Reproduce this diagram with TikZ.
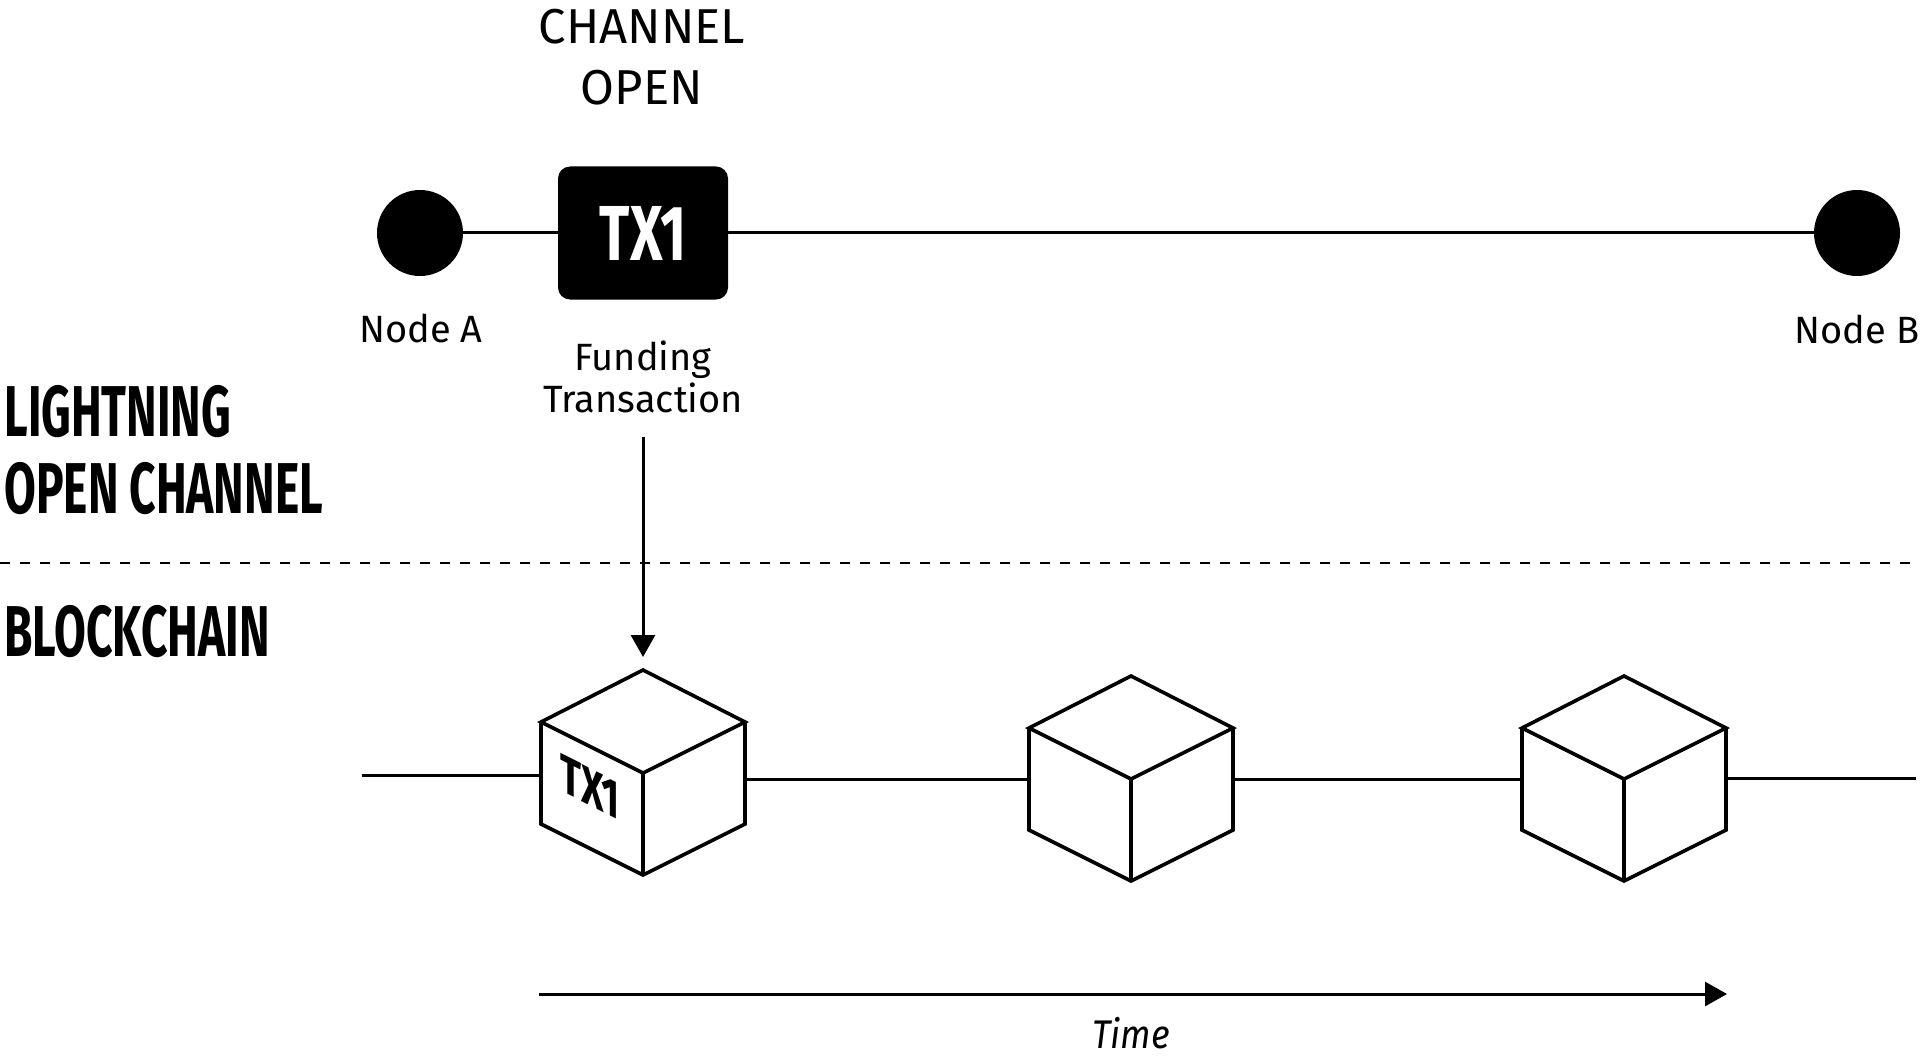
\documentclass[tikz,border=0pt]{standalone}
\usepackage{fontspec}
\setmainfont{Fira Sans}
\newfontfamily\headfont[FakeStretch=0.64]{Fira Sans}
\newfontfamily\txfont[FakeStretch=0.72]{Fira Sans}
\newfontfamily\timefont[FakeStretch=0.9]{Fira Sans}
\usetikzlibrary{arrows.meta}

\tikzset{
  peer/.style={circle, fill=black, minimum size=43pt, inner sep=0pt},
  txbox/.style={fill=black, rounded corners=6pt, minimum width=85pt, minimum height=66.5pt,
    inner sep=0pt, text=white, font=\txfont\bfseries\fontsize{39}{39}\selectfont},
  caption/.style={inner sep=0pt, font=\fontsize{19}{21}\selectfont, align=center},
  heading/.style={inner sep=0pt, anchor=north west, align=left,
    font=\headfont\bfseries\fontsize{36}{38.5}\selectfont},
  link/.style={line width=1.5pt},
  cubeline/.style={line width=1.8pt, line join=miter},
  flow/.style={line width=1.5pt, -{Triangle[length=11pt,width=12pt]}},
  divider/.style={line width=1pt, dash pattern=on 5pt off 5pt},
  block/.pic={
    \draw[cubeline, fill=white] (0,0) -- (-102,-51) -- (0,-103) -- (102,-51) -- cycle;
    \draw[cubeline] (-102,-51) -- (-102,51) -- (0,102) -- (102,51) -- (102,-51);
    \draw[cubeline] (0,0) -- (0,102);
    \coordinate (-w) at (-102,0);
    \coordinate (-e) at (102,0);
    \coordinate (-n) at (0,-103);
  }
}

\begin{document}
\begin{tikzpicture}[x=0.5pt, y=-0.5pt]
\useasboundingbox (0,0) rectangle (1920,1059);

% Lightning channel
\node[peer] (nodeA) at (420,233) {};
\node[peer] (nodeB) at (1857,233) {};
\node[txbox] (tx) at (643,233) {TX1};
\draw[link] (nodeA) -- (tx);
\draw[link] (tx) -- (nodeB);

\node[caption, anchor=north, font=\fontsize{24.5}{30.5}\selectfont] (open) at (642,9) {CHANNEL\\OPEN};
\node[caption, anchor=base] (labA) at (421,342) {Node A};
\node[caption, anchor=base] (labB) at (1857,343) {Node B};
\node[caption, anchor=north] (fund) at (643,340) {Funding\\Transaction};

% Section titles
\node[heading] (lightning) at (4,385) {LIGHTNING\\OPEN CHANNEL};
\draw[divider] (0,563) -- (1920,563);
\node[heading] (chain) at (4,605) {BLOCKCHAIN};

% Blocks
\pic (blk1) at (643,773) {block};
\pic (blk2) at (1131,779) {block};
\pic (blk3) at (1624,779) {block};
\node[yslant=-0.5, inner sep=0pt, font=\txfont\bfseries\fontsize{27}{27}\selectfont] (facetx) at (590,787) {TX1};

\coordinate (chainstart) at (362,775);
\coordinate (chainend) at (1916,778);
\draw[link] (chainstart) -- (chainstart -| blk1-w);
\draw[link] (blk2-w -| blk1-e) -- (blk2-w);
\draw[link] (blk2-e) -- (blk3-w);
\draw[link] (chainend -| blk3-e) -- (chainend);

\draw[flow, shorten >=6.5pt] ([yshift=-12pt]fund.south) -- (blk1-n);

% Time axis
\coordinate (tstart) at (539,994);
\coordinate (tend) at (1727,994);
\draw[flow] (tstart) -- (tend);
\node[caption, font=\timefont\itshape\fontsize{20}{20}\selectfont] (timelbl) at (1131,1033) {Time};

\end{tikzpicture}
\end{document}
